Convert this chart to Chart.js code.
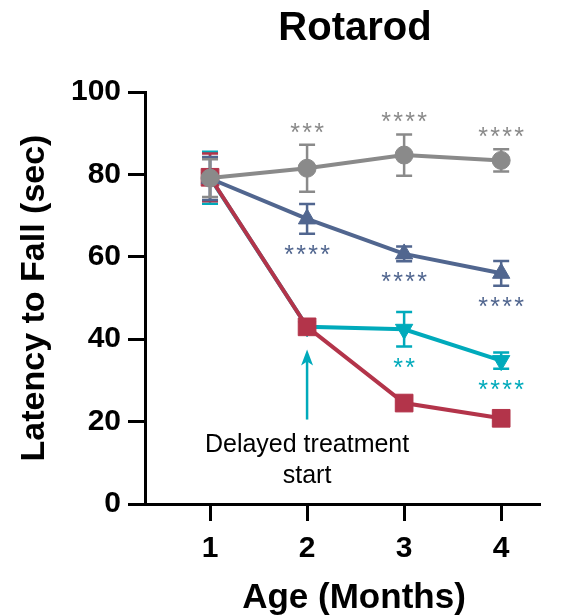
<!DOCTYPE html>
<html>
<head>
  <title>Rotarod</title>
  <style>
    body {
      margin: 0;
      background-color: #FFF;
    }

    #wrap {
      width: 562px;
      height: 616px;
    }
  </style>
</head>
<body>
  <div id="wrap">
    <canvas id="chart"></canvas>
  </div>

  <script src="https://cdn.jsdelivr.net/npm/chart.js"></script>

  <script>
    // Age in months
    var months = [1, 2, 3, 4];
    var xTicks = [1, 2, 3, 4];

    // Mean latency (sec) and error per group
    var grayMean = [79.1, 81.5, 84.7, 83.4];
    var grayErr = [4.6, 5.7, 5.0, 2.7];
    var blueMean = [79.0, 69.2, 60.7, 56.0];
    var blueErr = [5.2, 3.6, 1.8, 3.0];
    var redMean = [79.3, 43.0, 24.5, 20.8];
    var redErr = [5.8, 1.0, 1.2, 1.2];
    var tealMean = [79.2, 43.0, 42.4, 34.8];
    var tealErr = [6.3, 1.0, 4.2, 2.0];

    // Significance marks per time point
    var graySig = ['', '***', '****', '****'];
    var blueSig = ['', '****', '****', '****'];
    var tealSig = ['', '', '**', '****'];

    var FONT = "'Liberation Sans', Arial, sans-serif";
    var GRAY = '#8a8a8a';
    var BLUE = '#51668f';
    var RED = '#b3344a';
    var TEAL = '#00aabb';

    Chart.defaults.font.family = FONT;

    function toPoints(means) {
      return months.map(function(m, i) { return { x: m, y: means[i] }; });
    }

    function makeSet(label, means, errs, sig, color, style, radius, rotation, sigSide) {
      return {
        label: label,
        data: toPoints(means),
        errors: errs,
        sig: sig,
        sigSide: sigSide,
        borderColor: color,
        backgroundColor: color,
        borderWidth: 4,
        pointStyle: style,
        pointRadius: radius,
        pointRotation: rotation,
        pointBorderWidth: 1,
        pointBorderColor: color,
        pointBackgroundColor: color,
        tension: 0,
        clip: false
      };
    }

    // Error bars drawn under each dataset's line and markers
    var errorBars = {
      id: 'errorBars',
      beforeDatasetDraw: function(chart, args) {
        var ds = chart.data.datasets[args.index];
        var meta = args.meta;
        var y = chart.scales.y;
        var ctx = chart.ctx;
        ctx.save();
        ctx.strokeStyle = ds.borderColor;
        ctx.lineWidth = 2.5;
        meta.data.forEach(function(pt, i) {
          var v = ds.data[i].y;
          var e = ds.errors[i];
          var top = y.getPixelForValue(v + e);
          var bot = y.getPixelForValue(v - e);
          ctx.beginPath();
          ctx.moveTo(pt.x, top);
          ctx.lineTo(pt.x, bot);
          ctx.moveTo(pt.x - 8, top);
          ctx.lineTo(pt.x + 8, top);
          ctx.moveTo(pt.x - 8, bot);
          ctx.lineTo(pt.x + 8, bot);
          ctx.stroke();
        });
        ctx.restore();
      }
    };

    function drawStars(ctx, text, cx, cy, color) {
      ctx.fillStyle = color;
      ctx.font = '25px ' + FONT;
      ctx.textAlign = 'center';
      ctx.textBaseline = 'alphabetic';
      var m = ctx.measureText('*');
      var base = cy + (m.actualBoundingBoxAscent - m.actualBoundingBoxDescent) / 2;
      var step = 12;
      var start = cx - (text.length - 1) * step / 2;
      for (var i = 0; i < text.length; i++) {
        ctx.fillText('*', start + i * step, base);
      }
    }

    // Titles, significance stars and the treatment arrow
    var decorations = {
      id: 'decorations',
      afterDraw: function(chart) {
        var ctx = chart.ctx;
        var x = chart.scales.x;
        var y = chart.scales.y;
        ctx.save();

        ctx.fillStyle = '#000';
        ctx.textAlign = 'center';
        ctx.textBaseline = 'alphabetic';
        ctx.font = 'bold 40px ' + FONT;
        ctx.fillText('Rotarod', 355, 40);

        ctx.font = 'bold 35px ' + FONT;
        ctx.fillText('Age (Months)', 354, 608);

        ctx.save();
        ctx.translate(44, 298);
        ctx.rotate(-Math.PI / 2);
        ctx.font = 'bold 34px ' + FONT;
        ctx.fillText('Latency to Fall (sec)', 0, 0);
        ctx.restore();

        chart.data.datasets.forEach(function(ds) {
          ds.sig.forEach(function(s, i) {
            if (!s) return;
            var v = ds.data[i].y;
            var e = ds.errors[i];
            var px = x.getPixelForValue(ds.data[i].x);
            var py = ds.sigSide === 'above'
              ? y.getPixelForValue(v + e) - 17
              : y.getPixelForValue(v - e) + 16;
            drawStars(ctx, s, px, py, ds.borderColor);
          });
        });

        // Arrow marking the start of delayed treatment
        var ax = x.getPixelForValue(2);
        var tip = y.getPixelForValue(37.5);
        var tail = y.getPixelForValue(20.5);
        ctx.strokeStyle = TEAL;
        ctx.fillStyle = TEAL;
        ctx.lineWidth = 2.5;
        ctx.beginPath();
        ctx.moveTo(ax, tail);
        ctx.lineTo(ax, tip + 10);
        ctx.stroke();
        ctx.beginPath();
        ctx.moveTo(ax, tip);
        ctx.lineTo(ax - 6, tip + 16);
        ctx.lineTo(ax, tip + 12);
        ctx.lineTo(ax + 6, tip + 16);
        ctx.closePath();
        ctx.fill();

        ctx.fillStyle = '#000';
        ctx.font = '25px ' + FONT;
        ctx.fillText('Delayed treatment', ax, y.getPixelForValue(12.6));
        ctx.fillText('start', ax, y.getPixelForValue(5.1));

        ctx.restore();
      }
    };

    var chartElement = document.getElementById('chart').getContext('2d');
    var myChart = new Chart(chartElement, {
      type: 'line',
      data: {
        datasets: [
          makeSet('Gray', grayMean, grayErr, graySig, GRAY, 'circle', 9, 0, 'above'),
          makeSet('Blue', blueMean, blueErr, blueSig, BLUE, 'triangle', 10, 0, 'below'),
          makeSet('Red', redMean, redErr, ['', '', '', ''], RED, 'rect', 12.5, 0, 'below'),
          makeSet('Teal', tealMean, tealErr, tealSig, TEAL, 'triangle', 10, 180, 'below')
        ]
      },
      options: {
        responsive: true,
        maintainAspectRatio: false,
        animation: false,
        layout: {
          padding: { top: 92, right: 22, left: 0, bottom: 0 }
        },
        plugins: {
          legend: { display: false },
          tooltip: { enabled: false }
        },
        scales: {
          x: {
            type: 'linear',
            min: 0.33,
            max: 4.4,
            afterBuildTicks: function(scale) {
              scale.ticks = xTicks.map(function(v) { return { value: v }; });
            },
            afterFit: function(scale) {
              scale.height = 112;
            },
            border: { display: true, color: '#000', width: 3 },
            grid: {
              drawOnChartArea: false,
              drawTicks: true,
              tickLength: 17,
              tickWidth: 3,
              tickColor: '#000'
            },
            ticks: {
              color: '#000',
              padding: 10,
              font: { size: 30, weight: 'bold' }
            }
          },
          y: {
            min: 0,
            max: 100,
            afterFit: function(scale) {
              scale.width = 145;
            },
            border: { display: true, color: '#000', width: 3 },
            grid: {
              drawOnChartArea: false,
              drawTicks: true,
              tickLength: 17,
              tickWidth: 3,
              tickColor: '#000'
            },
            ticks: {
              stepSize: 20,
              color: '#000',
              padding: 7,
              font: { size: 30, weight: 'bold' }
            }
          }
        }
      },
      plugins: [errorBars, decorations]
    });
  </script>
</body>
</html>
